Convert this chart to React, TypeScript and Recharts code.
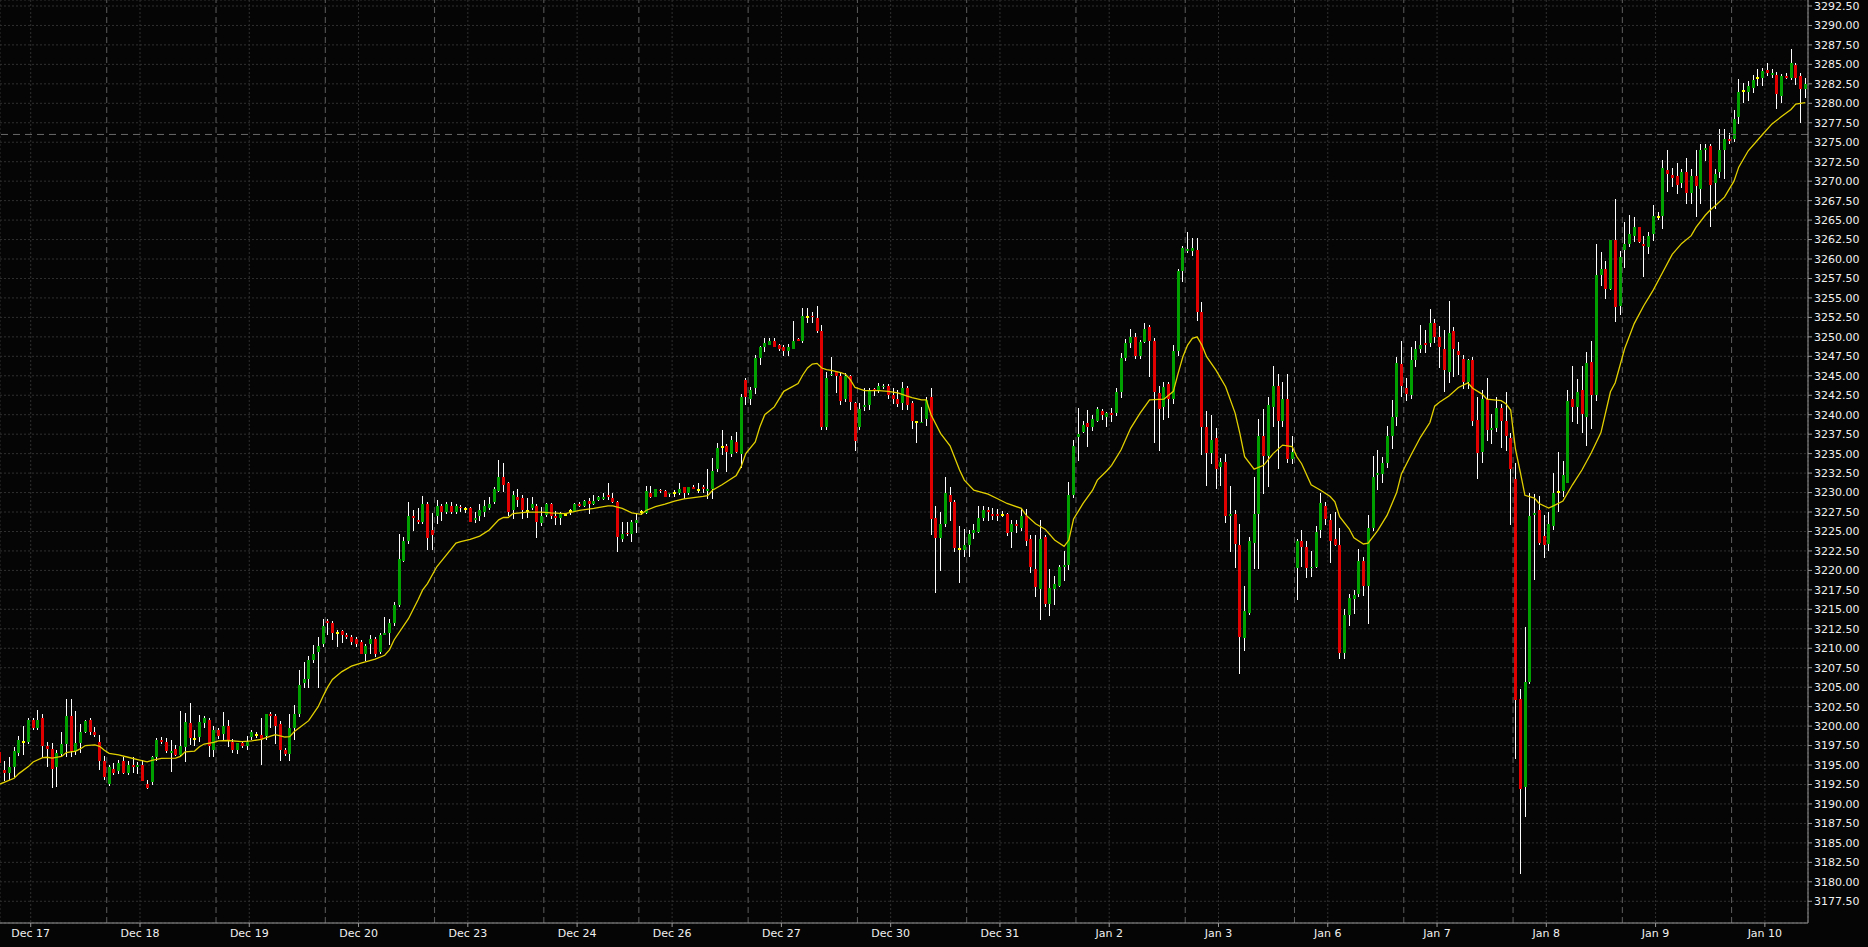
import React from 'react';
import {
  ComposedChart,
  Bar,
  Line,
  XAxis,
  YAxis,
  CartesianGrid,
  ReferenceLine,
} from 'recharts';

const FONT = '"DejaVu Sans", Verdana, sans-serif';

// hourly bars, first one is Dec 16 17:00 (index -1)
const FIRST_BAR = -1;

// [open, high, low, close]
const CANDLES: [number, number, number, number][] = [
  // -1 .. 21 (Dec 17 session)
  [3196.7, 3197.2, 3194.5, 3195.2],
  [3194.4, 3195.5, 3192.9, 3194.0],
  [3194.0, 3196.0, 3193.1, 3194.7],
  [3194.7, 3197.3, 3193.5, 3196.8],
  [3196.6, 3198.7, 3196.1, 3198.2],
  [3197.9, 3200.0, 3196.3, 3197.9],
  [3198.0, 3201.1, 3197.7, 3200.8],
  [3200.8, 3201.1, 3199.5, 3199.8],
  [3199.8, 3202.1, 3199.5, 3200.8],
  [3201.1, 3201.6, 3196.0, 3197.5],
  [3197.5, 3198.0, 3194.7, 3197.1],
  [3197.0, 3197.8, 3192.0, 3194.5],
  [3194.7, 3196.9, 3192.2, 3196.5],
  [3196.4, 3199.3, 3196.0, 3197.7],
  [3197.7, 3203.5, 3196.0, 3201.3],
  [3201.3, 3203.5, 3196.0, 3196.8],
  [3196.8, 3201.9, 3196.3, 3197.8],
  [3197.8, 3200.3, 3196.6, 3199.3],
  [3199.3, 3200.8, 3199.1, 3200.6],
  [3200.8, 3201.0, 3198.9, 3199.3],
  [3199.3, 3199.9, 3198.6, 3198.8],
  [3198.0, 3198.85, 3194.35, 3195.55],
  [3195.55, 3196.15, 3193.07, 3193.5],
  // 22 .. 44 (Dec 18 session)
  [3192.55, 3195.0, 3192.3, 3194.69],
  [3194.44, 3195.2, 3193.7, 3194.01],
  [3194.27, 3195.6, 3193.8, 3195.21],
  [3195.5, 3196.0, 3193.8, 3194.01],
  [3194.01, 3195.5, 3193.7, 3194.99],
  [3194.99, 3195.98, 3193.92, 3194.78],
  [3194.78, 3195.4, 3193.9, 3194.99],
  [3194.99, 3195.6, 3192.9, 3192.98],
  [3192.51, 3193.07, 3191.9, 3192.0],
  [3192.85, 3196.1, 3192.5, 3195.98],
  [3195.98, 3198.5, 3195.5, 3198.2],
  [3198.2, 3198.6, 3197.7, 3197.95],
  [3197.99, 3198.5, 3196.5, 3196.83],
  [3196.58, 3198.2, 3194.14, 3196.83],
  [3197.05, 3197.6, 3196.1, 3196.28],
  [3196.28, 3201.93, 3196.06, 3197.48],
  [3197.35, 3201.63, 3195.42, 3200.56],
  [3200.34, 3202.91, 3197.56, 3198.5],
  [3198.33, 3199.5, 3197.5, 3198.33],
  [3198.55, 3201.4, 3198.0, 3200.47],
  [3200.34, 3201.3, 3199.8, 3200.99],
  [3200.77, 3201.1, 3195.98, 3197.48],
  [3196.92, 3200.0, 3196.0, 3199.49],
  // 45 .. 67 (Dec 19 session)
  [3199.49, 3199.8, 3198.3, 3198.76],
  [3199.0, 3201.8, 3198.2, 3200.0],
  [3200.0, 3200.8, 3197.3, 3198.1],
  [3198.0, 3198.3, 3196.6, 3196.9],
  [3196.9, 3197.5, 3196.4, 3197.8],
  [3197.8, 3198.1, 3197.2, 3197.4],
  [3197.5, 3198.7, 3196.9, 3198.0],
  [3198.6, 3199.5, 3198.2, 3199.3],
  [3198.9, 3199.2, 3198.5, 3198.9],
  [3198.9, 3201.0, 3195.0, 3198.2],
  [3198.7, 3201.6, 3198.2, 3201.6],
  [3201.6, 3201.8, 3199.7, 3201.3],
  [3201.3, 3201.6, 3197.7, 3200.0],
  [3200.3, 3200.6, 3195.5, 3196.9],
  [3196.9, 3197.2, 3196.2, 3196.4],
  [3196.4, 3201.6, 3195.5, 3199.8],
  [3199.8, 3202.7, 3198.2, 3201.6],
  [3201.6, 3207.2, 3201.2, 3205.3],
  [3205.5, 3208.2, 3204.9, 3206.0],
  [3206.0, 3209.0, 3204.9, 3208.5],
  [3208.5, 3210.4, 3208.1, 3209.3],
  [3209.5, 3211.5, 3204.9, 3210.3],
  [3210.6, 3213.7, 3210.1, 3212.8],
  // 68 .. 90 (Dec 20 session)
  [3213.5, 3213.7, 3211.7, 3213.3],
  [3213.3, 3213.5, 3211.1, 3212.0],
  [3211.9, 3212.4, 3210.2, 3211.9],
  [3212.2, 3212.35, 3210.7, 3211.7],
  [3211.7, 3211.9, 3211.2, 3211.5],
  [3211.4, 3211.7, 3210.4, 3210.85],
  [3211.15, 3211.5, 3210.2, 3210.55],
  [3210.85, 3211.0, 3209.2, 3209.26],
  [3209.26, 3210.6, 3208.4, 3210.3],
  [3210.55, 3211.7, 3209.26, 3211.15],
  [3211.15, 3211.5, 3208.9, 3209.26],
  [3209.56, 3212.0, 3209.26, 3211.7],
  [3211.7, 3214.06, 3211.7, 3212.0],
  [3212.0, 3213.7, 3210.4, 3213.3],
  [3213.3, 3216.0, 3212.86, 3215.56],
  [3215.56, 3224.68, 3215.26, 3221.47],
  [3221.2, 3224.25, 3221.1, 3223.82],
  [3223.82, 3228.8, 3223.4, 3227.03],
  [3227.03, 3227.8, 3225.1, 3226.78],
  [3226.5, 3228.0, 3226.0, 3226.26],
  [3226.26, 3229.5, 3225.96, 3228.54],
  [3228.54, 3228.75, 3222.6, 3224.12],
  [3225.19, 3227.33, 3222.6, 3224.55],
  // 91 .. 113 (Dec 23 session)
  [3227.03, 3229.05, 3225.96, 3228.28],
  [3228.31, 3228.53, 3226.39, 3227.54],
  [3227.54, 3228.83, 3227.24, 3228.53],
  [3228.31, 3228.83, 3227.24, 3227.54],
  [3227.54, 3228.53, 3227.24, 3228.31],
  [3228.19, 3228.4, 3227.54, 3227.97],
  [3227.89, 3228.19, 3227.42, 3227.89],
  [3227.97, 3228.1, 3226.2, 3226.26],
  [3226.47, 3227.54, 3226.13, 3226.69],
  [3226.99, 3228.53, 3226.39, 3227.76],
  [3227.54, 3229.04, 3226.9, 3228.31],
  [3227.97, 3229.47, 3227.76, 3228.53],
  [3228.74, 3230.76, 3228.53, 3230.46],
  [3230.24, 3234.18, 3230.03, 3232.04],
  [3232.04, 3233.84, 3230.03, 3230.97],
  [3231.27, 3231.3, 3226.99, 3227.54],
  [3227.76, 3230.24, 3226.6, 3229.68],
  [3229.47, 3230.46, 3228.19, 3229.04],
  [3229.26, 3229.68, 3226.6, 3227.76],
  [3227.67, 3229.26, 3226.69, 3227.67],
  [3227.97, 3229.47, 3227.76, 3228.53],
  [3228.31, 3228.53, 3224.2, 3226.26],
  [3226.05, 3228.19, 3225.7, 3226.99],
  // 114 .. 133 (Dec 24 session)
  [3227.12, 3228.6, 3226.8, 3228.53],
  [3228.53, 3228.7, 3226.6, 3227.03],
  [3226.99, 3227.67, 3225.83, 3226.77],
  [3226.77, 3227.46, 3225.83, 3227.24],
  [3227.16, 3227.42, 3226.99, 3227.16],
  [3227.67, 3227.89, 3227.12, 3227.67],
  [3227.67, 3228.6, 3227.5, 3228.49],
  [3228.53, 3228.83, 3228.1, 3228.31],
  [3228.31, 3229.04, 3228.19, 3228.96],
  [3228.96, 3229.26, 3227.24, 3228.53],
  [3228.53, 3229.68, 3228.4, 3228.96],
  [3229.04, 3229.6, 3228.9, 3229.38],
  [3229.17, 3229.98, 3229.04, 3229.38],
  [3229.68, 3231.27, 3229.04, 3229.38],
  [3229.26, 3229.98, 3228.61, 3228.83],
  [3228.74, 3228.96, 3222.4, 3224.33],
  [3224.03, 3226.26, 3223.6, 3224.67],
  [3224.85, 3226.26, 3224.42, 3224.76],
  [3224.67, 3226.47, 3223.69, 3226.26],
  [3226.05, 3227.33, 3224.85, 3226.47],
  // 134 .. 156 (Dec 26 session)
  [3227.46, 3227.76, 3227.12, 3227.46],
  [3227.33, 3230.88, 3227.24, 3230.24],
  [3229.9, 3230.88, 3229.26, 3229.47],
  [3229.47, 3230.46, 3229.38, 3230.46],
  [3230.33, 3230.5, 3230.0, 3230.24],
  [3230.2, 3230.3, 3229.47, 3229.47],
  [3229.77, 3229.98, 3229.38, 3229.9],
  [3229.9, 3230.33, 3229.47, 3229.9],
  [3229.99, 3231.27, 3229.69, 3230.41],
  [3230.76, 3230.76, 3229.13, 3229.99],
  [3229.99, 3230.76, 3229.69, 3230.76],
  [3230.76, 3230.97, 3230.4, 3230.5],
  [3230.33, 3231.18, 3229.9, 3230.33],
  [3230.67, 3230.97, 3229.9, 3230.46],
  [3230.16, 3233.03, 3229.13, 3230.41],
  [3230.46, 3234.4, 3229.13, 3232.77],
  [3233.03, 3236.41, 3232.68, 3235.77],
  [3235.9, 3238.04, 3234.82, 3235.9],
  [3235.98, 3236.24, 3232.68, 3235.17],
  [3234.95, 3237.31, 3234.61, 3236.75],
  [3236.45, 3237.82, 3235.04, 3235.25],
  [3234.95, 3242.66, 3233.2, 3242.32],
  [3244.46, 3244.67, 3241.25, 3242.32],
  // 157 .. 179 (Dec 27 session)
  [3242.02, 3243.6, 3241.25, 3243.17],
  [3243.47, 3247.67, 3242.62, 3247.24],
  [3247.24, 3248.87, 3246.39, 3248.65],
  [3248.65, 3249.9, 3248.1, 3249.17],
  [3248.95, 3249.9, 3248.95, 3249.47],
  [3249.47, 3249.9, 3248.65, 3248.74],
  [3248.95, 3249.1, 3248.2, 3248.44],
  [3248.65, 3248.95, 3247.58, 3248.23],
  [3248.23, 3249.08, 3247.58, 3248.74],
  [3248.44, 3252.04, 3248.44, 3249.47],
  [3249.73, 3249.9, 3249.5, 3249.51],
  [3249.51, 3253.67, 3249.17, 3252.68],
  [3252.6, 3253.67, 3251.74, 3252.6],
  [3252.68, 3253.24, 3251.74, 3252.51],
  [3252.38, 3254.01, 3250.45, 3250.8],
  [3250.75, 3251.52, 3238.04, 3238.46],
  [3238.46, 3245.53, 3238.04, 3244.76],
  [3245.06, 3247.46, 3244.97, 3245.23],
  [3245.49, 3245.49, 3242.75, 3245.02],
  [3244.97, 3245.53, 3241.25, 3241.8],
  [3242.02, 3245.32, 3241.67, 3244.97],
  [3244.97, 3245.1, 3240.6, 3241.59],
  [3241.46, 3241.6, 3235.38, 3236.6],
  // 180 .. 202 (Dec 30 session)
  [3238.38, 3241.46, 3238.04, 3240.73],
  [3241.04, 3243.47, 3240.52, 3241.25],
  [3241.25, 3243.47, 3240.6, 3243.17],
  [3243.26, 3243.39, 3242.4, 3243.09],
  [3243.17, 3244.12, 3242.75, 3243.69],
  [3243.51, 3243.94, 3243.25, 3243.68],
  [3243.68, 3243.94, 3241.97, 3242.53],
  [3242.53, 3243.38, 3241.37, 3242.01],
  [3242.01, 3243.17, 3240.94, 3241.33],
  [3241.54, 3244.15, 3240.6, 3243.38],
  [3243.38, 3243.68, 3240.6, 3241.24],
  [3241.54, 3241.8, 3238.16, 3239.23],
  [3239.06, 3239.23, 3236.4, 3239.06],
  [3238.97, 3241.03, 3238.89, 3239.1],
  [3239.44, 3242.23, 3238.54, 3241.88],
  [3242.31, 3243.38, 3224.54, 3226.55],
  [3226.68, 3228.27, 3217.13, 3224.11],
  [3224.11, 3227.45, 3219.96, 3225.96],
  [3225.96, 3231.95, 3225.61, 3229.98],
  [3229.68, 3230.67, 3226.38, 3228.82],
  [3228.82, 3229.04, 3222.4, 3222.83],
  [3222.7, 3225.7, 3218.42, 3222.7],
  [3222.62, 3225.27, 3221.76, 3223.26],
  // 203 .. 225 (Dec 31 session)
  [3223.26, 3225.18, 3221.67, 3224.67],
  [3224.76, 3225.96, 3224.0, 3225.18],
  [3224.97, 3228.27, 3224.76, 3226.68],
  [3226.68, 3228.27, 3226.38, 3227.75],
  [3227.75, 3228.1, 3226.38, 3227.54],
  [3227.24, 3227.97, 3226.47, 3227.03],
  [3227.24, 3227.84, 3226.38, 3227.03],
  [3227.11, 3227.67, 3226.9, 3227.11],
  [3227.24, 3227.32, 3224.41, 3224.76],
  [3224.97, 3226.47, 3222.83, 3225.96],
  [3225.91, 3226.47, 3224.76, 3225.7],
  [3225.48, 3227.97, 3225.1, 3226.98],
  [3226.98, 3227.84, 3223.13, 3223.81],
  [3223.98, 3224.54, 3219.62, 3220.47],
  [3220.13, 3224.54, 3216.62, 3217.82],
  [3217.56, 3226.47, 3213.62, 3223.98],
  [3224.24, 3224.54, 3215.34, 3215.68],
  [3215.68, 3220.13, 3214.14, 3217.69],
  [3217.56, 3219.27, 3215.55, 3218.25],
  [3218.03, 3220.69, 3217.9, 3220.47],
  [3220.47, 3222.53, 3218.68, 3220.69],
  [3220.69, 3231.39, 3220.05, 3229.68],
  [3229.68, 3236.75, 3229.25, 3235.98],
  // 226 .. 248 (Jan 2 session)
  [3237.09, 3240.81, 3234.09, 3237.52],
  [3237.82, 3239.23, 3237.6, 3238.67],
  [3238.97, 3240.6, 3235.89, 3238.46],
  [3238.46, 3239.96, 3237.94, 3239.4],
  [3239.23, 3241.03, 3239.1, 3240.73],
  [3240.47, 3240.69, 3239.32, 3240.0],
  [3239.75, 3240.39, 3238.38, 3240.17],
  [3240.26, 3240.82, 3239.1, 3240.0],
  [3240.17, 3243.38, 3239.83, 3242.9],
  [3242.9, 3247.88, 3242.19, 3247.3],
  [3247.33, 3249.72, 3246.94, 3249.17],
  [3249.17, 3250.97, 3248.53, 3249.94],
  [3249.94, 3250.45, 3247.16, 3247.58],
  [3247.58, 3249.6, 3247.16, 3249.4],
  [3249.3, 3251.74, 3249.17, 3250.97],
  [3251.22, 3251.52, 3244.89, 3249.51],
  [3249.47, 3249.81, 3236.41, 3242.87],
  [3242.74, 3243.69, 3235.38, 3240.73],
  [3241.03, 3244.24, 3239.32, 3243.6],
  [3243.9, 3244.24, 3239.53, 3242.02],
  [3242.02, 3248.95, 3241.37, 3248.18],
  [3248.18, 3258.72, 3247.54, 3258.46],
  [3258.46, 3261.67, 3257.09, 3261.37],
  // 249 .. 271 (Jan 3 session)
  [3261.07, 3263.43, 3260.73, 3261.24],
  [3261.07, 3262.66, 3260.39, 3261.37],
  [3261.16, 3262.66, 3252.08, 3253.23],
  [3253.23, 3254.52, 3234.82, 3238.46],
  [3238.38, 3240.52, 3230.88, 3235.04],
  [3235.04, 3239.96, 3233.67, 3236.75],
  [3236.96, 3238.25, 3230.41, 3233.02],
  [3233.32, 3234.4, 3230.88, 3233.97],
  [3233.97, 3234.95, 3226.13, 3227.03],
  [3227.03, 3230.88, 3222.41, 3227.24],
  [3227.24, 3227.76, 3220.35, 3223.35],
  [3223.26, 3225.96, 3206.65, 3211.49],
  [3211.27, 3217.99, 3209.69, 3214.78],
  [3214.57, 3224.25, 3214.27, 3223.78],
  [3223.56, 3232.04, 3220.14, 3227.24],
  [3227.24, 3239.45, 3220.14, 3237.26],
  [3237.26, 3240.73, 3229.81, 3234.74],
  [3234.74, 3242.32, 3230.67, 3241.25],
  [3241.03, 3246.26, 3238.46, 3243.69],
  [3243.69, 3245.23, 3232.98, 3239.23],
  [3239.23, 3244.24, 3238.46, 3242.02],
  [3242.02, 3245.23, 3233.84, 3234.27],
  [3234.27, 3237.31, 3233.67, 3235.25],
  // 272 .. 294 (Jan 6 session)
  [3220.26, 3223.99, 3216.2, 3223.78],
  [3223.78, 3225.19, 3220.48, 3223.05],
  [3223.05, 3223.78, 3218.98, 3220.26],
  [3220.26, 3222.47, 3219.21, 3220.47],
  [3220.47, 3225.71, 3220.37, 3224.98],
  [3225.19, 3229.96, 3224.2, 3228.6],
  [3228.23, 3228.76, 3225.87, 3226.66],
  [3226.5, 3227.29, 3220.89, 3223.78],
  [3224.04, 3227.45, 3223.09, 3223.25],
  [3223.25, 3225.4, 3208.57, 3209.36],
  [3209.36, 3215.02, 3208.57, 3214.23],
  [3214.23, 3216.96, 3212.87, 3216.44],
  [3216.28, 3217.48, 3214.34, 3216.8],
  [3216.96, 3222.73, 3216.59, 3221.26],
  [3221.26, 3221.68, 3216.7, 3218.01],
  [3218.01, 3227.18, 3213.13, 3225.45],
  [3225.45, 3234.68, 3225.09, 3232.01],
  [3232.32, 3235.42, 3230.33, 3232.53],
  [3232.43, 3234.52, 3231.22, 3233.74],
  [3233.74, 3238.61, 3233.21, 3237.25],
  [3237.25, 3241.86, 3235.57, 3239.66],
  [3239.66, 3247.47, 3238.56, 3246.58],
  [3246.48, 3249.47, 3242.28, 3243.7],
  // 295 .. 317 (Jan 7 session)
  [3243.44, 3244.75, 3241.76, 3242.65],
  [3242.49, 3248.68, 3241.97, 3247.0],
  [3247.0, 3249.47, 3246.16, 3248.42],
  [3248.42, 3251.46, 3247.89, 3248.94],
  [3249.2, 3250.88, 3247.89, 3248.94],
  [3249.2, 3253.56, 3248.68, 3251.72],
  [3251.72, 3252.25, 3249.2, 3249.99],
  [3249.99, 3251.41, 3245.95, 3248.68],
  [3248.42, 3250.88, 3242.91, 3245.8],
  [3245.51, 3254.55, 3244.07, 3250.52],
  [3250.78, 3251.3, 3244.9, 3248.42],
  [3248.16, 3249.36, 3245.11, 3247.63],
  [3247.21, 3247.63, 3243.28, 3244.22],
  [3244.22, 3247.21, 3243.28, 3247.0],
  [3247.0, 3247.37, 3238.56, 3239.24],
  [3239.35, 3242.28, 3231.75, 3235.05],
  [3235.21, 3243.17, 3233.74, 3241.97],
  [3241.97, 3244.75, 3236.62, 3238.09],
  [3238.09, 3240.03, 3236.2, 3238.35],
  [3238.3, 3242.28, 3237.77, 3240.92],
  [3240.92, 3241.34, 3235.68, 3239.24],
  [3239.14, 3242.91, 3235.31, 3237.25],
  [3237.04, 3237.67, 3225.87, 3233.06],
  // 318 .. 340 (Jan 8 session)
  [3231.75, 3233.74, 3195.73, 3203.33],
  [3203.49, 3204.74, 3181.05, 3191.95],
  [3192.16, 3212.76, 3188.28, 3205.69],
  [3205.69, 3229.96, 3205.43, 3227.03],
  [3227.18, 3229.8, 3218.8, 3227.35],
  [3227.71, 3229.54, 3223.25, 3223.51],
  [3224.37, 3227.12, 3221.62, 3223.22],
  [3223.36, 3227.49, 3222.44, 3225.97],
  [3225.74, 3232.53, 3225.19, 3229.97],
  [3230.1, 3235.15, 3227.49, 3230.1],
  [3230.24, 3234.0, 3229.42, 3232.26],
  [3231.25, 3243.18, 3231.25, 3241.71],
  [3242.03, 3246.3, 3239.05, 3241.02],
  [3240.98, 3244.55, 3238.82, 3242.95],
  [3243.18, 3246.3, 3237.67, 3240.06],
  [3239.74, 3248.0, 3235.93, 3246.62],
  [3246.71, 3249.51, 3238.22, 3242.49],
  [3242.49, 3261.98, 3241.8, 3257.95],
  [3257.95, 3260.84, 3256.48, 3258.77],
  [3258.77, 3259.78, 3254.88, 3256.11],
  [3256.11, 3262.44, 3256.0, 3262.44],
  [3262.44, 3267.72, 3251.89, 3253.82],
  [3253.96, 3261.07, 3252.81, 3260.24],
  // 341 .. 363 (Jan 9 session)
  [3261.21, 3264.74, 3258.87, 3261.98],
  [3261.98, 3265.65, 3261.53, 3263.22],
  [3262.99, 3265.42, 3262.21, 3264.05],
  [3264.05, 3264.14, 3262.0, 3262.21],
  [3261.89, 3262.99, 3257.63, 3261.66],
  [3261.53, 3263.45, 3260.7, 3262.99],
  [3263.22, 3266.94, 3262.35, 3265.56],
  [3265.42, 3266.1, 3264.96, 3265.42],
  [3265.56, 3272.76, 3263.91, 3271.71],
  [3271.39, 3274.0, 3268.64, 3270.93],
  [3270.84, 3271.71, 3269.23, 3270.47],
  [3270.7, 3272.3, 3268.41, 3269.55],
  [3269.78, 3271.52, 3269.09, 3271.16],
  [3271.16, 3272.99, 3267.12, 3268.54],
  [3268.54, 3271.62, 3267.12, 3270.7],
  [3270.7, 3274.0, 3265.42, 3269.32],
  [3269.0, 3274.83, 3267.03, 3274.0],
  [3274.0, 3274.83, 3272.53, 3274.28],
  [3274.46, 3274.83, 3264.14, 3269.55],
  [3269.78, 3271.62, 3266.48, 3270.93],
  [3271.16, 3276.66, 3270.47, 3274.0],
  [3274.0, 3276.66, 3270.24, 3275.38],
  [3275.38, 3276.2, 3274.83, 3275.19],
  // 364 .. 379 (Jan 10 session)
  [3275.38, 3279.19, 3275.06, 3277.95],
  [3278.27, 3283.18, 3277.35, 3281.39],
  [3281.62, 3282.63, 3280.1, 3281.62],
  [3281.48, 3282.86, 3280.33, 3282.26],
  [3282.03, 3283.63, 3281.34, 3282.95],
  [3283.22, 3284.46, 3282.17, 3283.22],
  [3283.22, 3284.55, 3282.17, 3284.09],
  [3284.32, 3285.15, 3283.54, 3283.91],
  [3283.68, 3284.46, 3283.31, 3283.86],
  [3283.68, 3284.0, 3279.32, 3281.16],
  [3280.93, 3283.77, 3280.1, 3283.45],
  [3283.45, 3283.86, 3283.08, 3283.27],
  [3283.31, 3286.98, 3282.99, 3285.15],
  [3284.92, 3285.15, 3282.4, 3283.31],
  [3283.5, 3283.94, 3277.43, 3281.8],
  [3281.8, 3283.2, 3280.64, 3282.48],
];

// moving average: [bar index, value]
const MA_POINTS: [number, number][] = [
  [-1, 3192.55], [2, 3193.3], [3, 3193.9], [5, 3194.8], [6, 3195.4], [8, 3195.95], [9, 3196.0],
  [10, 3195.9], [12, 3196.1], [13, 3196.6], [15, 3196.8], [16, 3197.1], [17, 3197.5], [19, 3197.6],
  [20, 3197.4], [21, 3196.9], [22, 3196.5], [24, 3196.3], [26, 3196.0], [28, 3195.7], [30, 3195.4],
  [31, 3195.6], [33, 3195.85], [36, 3195.9], [37, 3196.1], [38, 3196.7], [40, 3196.8], [41, 3197.35],
  [42, 3197.7], [44, 3197.9], [45, 3198.1], [47, 3198.15], [50, 3198.0], [52, 3198.1], [54, 3198.3],
  [56, 3198.7], [57, 3198.9], [59, 3198.6], [60, 3198.65], [61, 3199.3], [64, 3200.7], [66, 3202.5],
  [67, 3203.8], [68, 3205.0], [69, 3206.0], [71, 3207.0], [73, 3207.7], [75, 3208.1], [78, 3208.6],
  [80, 3209.1], [81, 3209.8], [82, 3211.1], [85, 3213.8], [87, 3216.2], [88, 3217.5], [89, 3218.3],
  [91, 3220.5], [93, 3222.0], [95, 3223.5], [96, 3223.7], [98, 3224.0], [100, 3224.4], [102, 3225.2],
  [104, 3226.5], [105, 3226.8], [106, 3226.8], [107, 3227.3], [110, 3227.5], [113, 3227.5], [115, 3227.4],
  [118, 3227.3], [121, 3227.7], [124, 3227.97], [127, 3228.3], [128, 3228.3], [130, 3227.97], [132, 3227.4],
  [134, 3227.2], [135, 3227.7], [137, 3228.2], [139, 3228.5], [141, 3228.9], [143, 3229.2], [147, 3229.5],
  [148, 3229.6], [149, 3230.3], [151, 3231.0], [154, 3232.2], [155, 3233.3], [156, 3235.0], [158, 3236.5],
  [159, 3238.5], [160, 3240.0], [162, 3241.0], [164, 3243.0], [167, 3244.0], [168, 3245.1], [169, 3246.0],
  [170, 3246.5], [171, 3246.6], [172, 3246.0], [173, 3245.8], [174, 3245.7], [176, 3245.4], [177, 3245.2],
  [178, 3244.5], [179, 3243.5], [181, 3243.1], [184, 3243.1], [186, 3243.0], [188, 3242.8], [190, 3242.4],
  [191, 3242.2], [193, 3241.9], [194, 3241.9], [195, 3240.0], [197, 3237.6], [199, 3236.0], [201, 3232.9],
  [202, 3231.6], [204, 3230.3], [207, 3229.8], [209, 3229.2], [211, 3228.6], [214, 3227.97], [215, 3227.1],
  [217, 3226.0], [219, 3225.3], [221, 3223.9], [223, 3223.1], [224, 3223.9], [225, 3226.6], [227, 3228.6],
  [229, 3230.3], [230, 3231.6], [232, 3232.8], [233, 3233.5], [235, 3235.5], [237, 3238.25], [239, 3240.2],
  [241, 3241.9], [244, 3242.0], [246, 3243.0], [247, 3245.3], [248, 3247.45], [249, 3248.95], [250, 3249.8],
  [251, 3250.0], [252, 3248.95], [253, 3247.45], [255, 3245.7], [257, 3243.6], [259, 3240.2], [260, 3237.6],
  [261, 3234.6], [263, 3233.0], [265, 3233.5], [267, 3235.0], [269, 3236.1], [271, 3235.9], [272, 3234.6],
  [273, 3233.7], [275, 3231.0], [277, 3230.3], [279, 3229.5], [280, 3228.8], [281, 3226.9], [283, 3225.35],
  [284, 3224.2], [286, 3223.4], [287, 3223.5], [289, 3225.1], [291, 3227.1], [293, 3230.0], [294, 3232.4],
  [296, 3234.8], [298, 3237.1], [300, 3239.0], [301, 3241.1], [302, 3241.6], [304, 3242.4], [306, 3243.5],
  [308, 3244.1], [309, 3243.4], [311, 3242.65], [312, 3242.0], [315, 3241.8], [316, 3241.4], [317, 3240.6],
  [318, 3235.6], [319, 3232.7], [320, 3229.65], [322, 3229.3], [323, 3228.6], [325, 3228.0], [326, 3228.3],
  [328, 3228.9], [330, 3231.0], [332, 3232.9], [334, 3235.15], [336, 3237.7], [338, 3242.95], [339, 3244.1],
  [341, 3248.5], [343, 3251.7], [345, 3254.0], [347, 3256.0], [349, 3258.3], [351, 3260.6], [353, 3262.0],
  [355, 3263.0], [356, 3264.05], [358, 3265.65], [359, 3266.3], [360, 3266.8], [362, 3267.95], [364, 3270.0],
  [365, 3271.8], [367, 3273.9], [370, 3276.0], [372, 3277.35], [374, 3278.3], [376, 3279.2], [377, 3279.9],
  [379, 3280.1],
];

const DAY_LABELS = ['Dec 17', 'Dec 18', 'Dec 19', 'Dec 20', 'Dec 23', 'Dec 24', 'Dec 26', 'Dec 27', 'Dec 30', 'Dec 31', 'Jan 2', 'Jan 3', 'Jan 6', 'Jan 7', 'Jan 8', 'Jan 9', 'Jan 10'];
// bar index of the 00:00 bar of each labelled day
const DAY_MIDNIGHT_BAR = [6, 29, 52, 75, 98, 121, 141, 164, 187, 210, 233, 256, 279, 302, 325, 348, 371];
// bar index of each 17:00 session open
const SESSION_START_BAR = [22, 45, 68, 91, 114, 134, 157, 180, 203, 226, 249, 272, 295, 318, 341, 364];

const Y_TICKS = [
  3177.5, 3180, 3182.5, 3185, 3187.5, 3190, 3192.5, 3195, 3197.5, 3200, 3202.5, 3205, 3207.5, 3210,
  3212.5, 3215, 3217.5, 3220, 3222.5, 3225, 3227.5, 3230, 3232.5, 3235, 3237.5, 3240, 3242.5, 3245,
  3247.5, 3250, 3252.5, 3255, 3257.5, 3260, 3262.5, 3265, 3267.5, 3270, 3272.5, 3275, 3277.5, 3280,
  3282.5, 3285, 3287.5, 3290, 3292.5,
];
const PRICE_LINE = 3276.0;

const W = 1868;
const H = 947;

const maMap = new Map<number, number>(MA_POINTS.map(([b, v]) => [b, v]));
const rows = CANDLES.map((t, i) => {
  const j = FIRST_BAR + i;
  return { j, o: t[0], h: t[1], l: t[2], c: t[3], range: [t[2], t[1]], ma: maMap.has(j) ? maMap.get(j) : null };
});
const X_TICKS = DAY_MIDNIGHT_BAR.map((b) => b - 0.5);
const labelOf = new Map<number, string>(X_TICKS.map((t, i) => [t, DAY_LABELS[i]]));

function Candle(props: any) {
  const { x, y, width, height, payload } = props;
  if (!payload || x == null || y == null) return <g />;
  const { o, h, l, c } = payload;
  const top = Math.min(y, y + height);
  const bottom = Math.max(y, y + height);
  const span = h - l;
  const k = span > 0 ? (bottom - top) / span : 0;
  const py = (v: number) => top + (h - v) * k;
  const cx = Math.round(x + width / 2 - 0.5);
  const doji = Math.abs(o - c) < 0.005;
  const color = doji ? '#ffff00' : c > o ? '#00a000' : '#e00000';
  const wTop = Math.round(top);
  const wBot = Math.round(bottom);
  let bTop = Math.round(py(Math.max(o, c)));
  let bBot = Math.round(py(Math.min(o, c)));
  if (doji) {
    bTop = Math.round(py(o)) - 1;
    bBot = bTop + 2;
  } else if (bBot - bTop < 1) {
    bBot = bTop + 1;
  }
  return (
    <g shapeRendering="crispEdges">
      <rect x={cx} y={wTop} width={1} height={Math.max(1, wBot - wTop)} fill="#ffffff" />
      <rect x={cx - 1} y={bTop} width={3} height={bBot - bTop} fill={color} />
    </g>
  );
}

export default function App() {
  return (
    <div style={{ position: 'absolute', left: 0, top: 0, width: W, height: H, background: '#050505', overflow: 'hidden' }}>
      <ComposedChart width={W} height={H} data={rows} margin={{ top: 0, right: 0, bottom: 0, left: 0 }}>
        <CartesianGrid stroke="#303030" strokeDasharray="2 2" />
        <XAxis
          dataKey="j"
          type="number"
          domain={[-0.968, 379.58]}
          allowDataOverflow
          ticks={X_TICKS}
          interval={0}
          tickFormatter={(v: number) => labelOf.get(v) ?? ''}
          height={24}
          tickSize={4}
          tickMargin={2}
          axisLine={{ stroke: '#999999' }}
          tickLine={{ stroke: '#999999' }}
          tick={{ fill: '#f0f0f0', fontSize: 11, fontFamily: FONT }}
        />
        <YAxis
          orientation="right"
          type="number"
          width={60}
          domain={[3174.71, 3293.27]}
          allowDataOverflow
          ticks={Y_TICKS}
          interval={0}
          tickFormatter={(v: number) => v.toFixed(2)}
          tickSize={4}
          tickMargin={2}
          axisLine={{ stroke: '#999999' }}
          tickLine={{ stroke: '#999999' }}
          tick={{ fill: '#f0f0f0', fontSize: 11, fontFamily: FONT }}
        />
        {SESSION_START_BAR.map((b) => (
          <ReferenceLine key={b} x={b - 0.5} stroke="#5e5e5e" strokeDasharray="6 4" />
        ))}
        <ReferenceLine y={PRICE_LINE} stroke="#6a6a6a" strokeDasharray="7 5" />
        <Bar dataKey="range" barSize={3} shape={<Candle />} isAnimationActive={false} />
        <Line
          dataKey="ma"
          type="linear"
          stroke="#e2d000"
          strokeWidth={1.3}
          dot={false}
          connectNulls
          isAnimationActive={false}
        />
      </ComposedChart>
    </div>
  );
}
